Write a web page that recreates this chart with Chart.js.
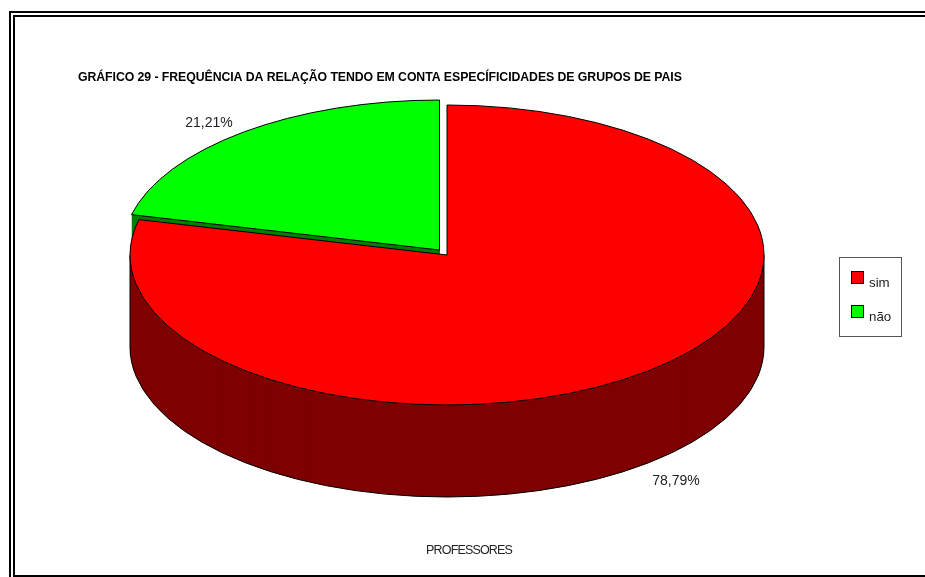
<!DOCTYPE html>
<html>
<head>
<meta charset="utf-8">
<style>html,body{margin:0;padding:0;background:#fff;overflow:hidden}canvas{display:block}</style>
<script src="https://cdn.jsdelivr.net/npm/chart.js@4/dist/chart.umd.js"></script>
</head>
<body>
<canvas id="c" width="925" height="577"></canvas>
<script>
const categories = ['sim', 'não'];
const values = [78.79, 21.21];
const faceColors = ['#ff0000', '#00ff00'];
const wallColors = ['#7f0000', '#007f00'];
const chartTitle = 'GRÁFICO 29 - FREQUÊNCIA DA RELAÇÃO TENDO EM CONTA ESPECÍFICIDADES DE GRUPOS DE PAIS';
const axisTitle = 'PROFESSORES';

const STRETCH = 317 / 150, DEPTH = 92;
const SHIFT = [[0, 0], [-7.5, -5]];
const LABEL_POS = [[676, 480], [209, 122]];
const FONT = '"Liberation Sans", Arial, sans-serif';

function drawArc(ctx, arc, color, dx, dy) {
  const saved = arc.options;
  arc.options = Object.assign({}, saved, {backgroundColor: color});
  ctx.save();
  ctx.translate(arc.x + dx, arc.y + dy);
  ctx.scale(STRETCH, 1);
  ctx.translate(-arc.x, -arc.y);
  arc.draw(ctx);
  ctx.restore();
  arc.options = saved;
}
function outline(ctx, arc, dx, dy) {
  const rx = arc.outerRadius * STRETCH, ry = arc.outerRadius;
  const x = arc.x + dx, y = arc.y + dy;
  const a0 = arc.startAngle, a1 = arc.endAngle;
  ctx.beginPath();
  ctx.moveTo(x, y);
  ctx.ellipse(x, y, rx, ry, 0, a0, a1);
  ctx.closePath();
  ctx.stroke();
}
function text(ctx, s, x, y, font, align, spacing, color) {
  ctx.font = font;
  ctx.textAlign = align;
  ctx.textBaseline = 'alphabetic';
  ctx.letterSpacing = spacing || '0px';
  ctx.fillStyle = color || '#000';
  ctx.fillText(s, x, y);
  ctx.letterSpacing = '0px';
}

const pie3d = {
  id: 'pie3d',
  beforeDraw(chart) {
    const ctx = chart.ctx;
    ctx.save();
    ctx.fillStyle = '#fff';
    ctx.fillRect(0, 0, chart.width, chart.height);
    ctx.fillStyle = '#000';
    ctx.fillRect(9, 11, chart.width, 2);
    ctx.fillRect(9, 11, 2, chart.height);
    ctx.fillRect(13, 15, chart.width, 2);
    ctx.fillRect(13, 15, 2, chart.height);
    ctx.fillRect(13, 575, chart.width, 2);
    ctx.restore();
  },
  beforeDatasetsDraw(chart) {
    const ctx = chart.ctx;
    const arcs = chart.getDatasetMeta(0).data;
    const order = [1, 0];
    ctx.save();
    order.forEach(i => {
      for (let d = DEPTH; d >= 1; d--) {
        drawArc(ctx, arcs[i], wallColors[i], SHIFT[i][0], SHIFT[i][1] + d);
      }
    });
    const red = arcs[0];
    const rx = red.outerRadius * STRETCH, ry = red.outerRadius;
    ctx.strokeStyle = '#000';
    ctx.lineWidth = 1;
    ctx.beginPath();
    ctx.ellipse(red.x, red.y + DEPTH, rx, ry, 0, 0, Math.PI);
    ctx.moveTo(red.x - rx, red.y);
    ctx.lineTo(red.x - rx, red.y + DEPTH);
    ctx.moveTo(red.x + rx, red.y);
    ctx.lineTo(red.x + rx, red.y + DEPTH);
    ctx.stroke();
    [0, 1].forEach(i => {
      drawArc(ctx, arcs[i], faceColors[i], SHIFT[i][0], SHIFT[i][1]);
      outline(ctx, arcs[i], SHIFT[i][0], SHIFT[i][1]);
    });
    ctx.restore();
    return false;
  },
  afterDraw(chart) {
    const ctx = chart.ctx;
    ctx.save();
    text(ctx, chartTitle, 78, 81, 'bold 12.3px ' + FONT, 'left', '-0.07px', '#000');
    text(ctx, axisTitle, 469, 554, '12.5px ' + FONT, 'center', '-0.85px', '#222');
    values.forEach((v, i) => {
      const s = v.toFixed(2).replace('.', ',') + '%';
      text(ctx, s, LABEL_POS[i][0], LABEL_POS[i][1] + 5, '14px ' + FONT, 'center', '0px', '#222');
    });
    ctx.strokeStyle = '#555';
    ctx.lineWidth = 1;
    ctx.strokeRect(839.5, 257.5, 62, 79);
    categories.forEach((c, i) => {
      const y = 271 + i * 34;
      ctx.fillStyle = faceColors[i];
      ctx.fillRect(851, y, 12, 12);
      ctx.strokeStyle = '#000';
      ctx.strokeRect(851.5, y + 0.5, 12, 12);
      text(ctx, c, 869, y + 16, '13.3px ' + FONT, 'left', '0px', '#222');
    });
    ctx.restore();
  }
};

new Chart(document.getElementById('c'), {
  type: 'pie',
  data: {
    labels: categories,
    datasets: [{data: values, backgroundColor: faceColors, borderWidth: 0}]
  },
  options: {
    responsive: false,
    animation: false,
    radius: 150,
    layout: {padding: {top: 105, bottom: 172, left: 297, right: 328}},
    plugins: {legend: {display: false}, title: {display: false}, tooltip: {enabled: false}}
  },
  plugins: [pie3d]
});
</script>
</body>
</html>
